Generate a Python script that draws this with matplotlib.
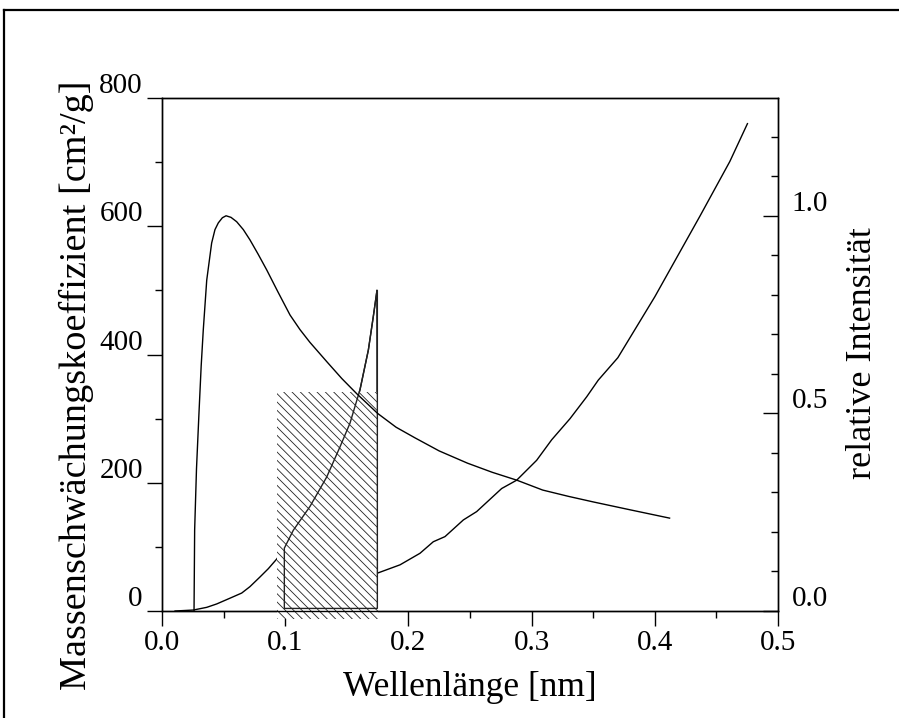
import matplotlib
matplotlib.use("Agg")
import matplotlib.pyplot as plt
from matplotlib.patches import Rectangle, Polygon
from matplotlib.lines import Line2D
from matplotlib.transforms import ScaledTranslation

plt.rcParams['font.family'] = ['Liberation Serif', 'DejaVu Serif']
plt.rcParams['hatch.linewidth'] = 0.6

# ---- data ----
# X-ray spectrum (relative intensity, right axis)
spec_wl = [0.026, 0.0265, 0.0280, 0.0300, 0.0318, 0.0335, 0.0363, 0.0403, 0.0430,
           0.0457, 0.0490, 0.0520, 0.0560, 0.0606, 0.0660, 0.0714, 0.0780, 0.0850,
           0.0940, 0.1039, 0.1120, 0.1200, 0.1340, 0.1460, 0.1580, 0.1750,
           0.1900, 0.2054, 0.2250, 0.2480, 0.2680, 0.2880, 0.3090, 0.3300, 0.3500,
           0.3800, 0.4120]
spec_int = [0.0, 0.205, 0.36, 0.50, 0.62, 0.711, 0.837, 0.931, 0.965,
            0.982, 0.995, 1.0, 0.996, 0.985, 0.965, 0.939, 0.903, 0.863,
            0.808, 0.749, 0.712, 0.680, 0.630, 0.588, 0.550, 0.500,
            0.465, 0.438, 0.405, 0.374, 0.351, 0.331, 0.306, 0.290, 0.276,
            0.256, 0.235]

# mass attenuation coefficient (left axis)
abs_wl = [0.0106, 0.0254, 0.0363, 0.0444, 0.0552, 0.0647, 0.0714, 0.0795, 0.0863,
          0.0931, 0.0993, 0.1066, 0.1201, 0.1337, 0.1445, 0.1526, 0.1607, 0.1675,
          0.1715, 0.1745, 0.1748, 0.1932, 0.2094, 0.2202, 0.2297, 0.2446, 0.2554,
          0.2757, 0.2879, 0.3041, 0.3163, 0.3312, 0.3447, 0.3541, 0.3700, 0.4000,
          0.4367, 0.4609, 0.4752]
abs_mu = [0, 1.5, 5.7, 11, 20, 28, 38, 53, 66,
          81, 98, 126, 163, 209, 256, 293, 345, 407,
          459, 500, 59, 72, 90, 108, 116, 142, 155,
          191, 204, 235, 267, 300, 334, 360, 395, 490,
          616, 701, 760]

# outlined region under the curve (wavelength range)
region_lo, region_hi = 0.0993, 0.1748
# hatched band
band_lo, band_hi = 0.093, 0.1755
band_top = 342
band_bottom = -12

x_ticks = [0.0, 0.1, 0.2, 0.3, 0.4, 0.5]
x_ticklabels = ['0.0', '0.1', '0.2', '0.3', '0.4', '0.5']
x_minor = [0.05, 0.15, 0.25, 0.35, 0.45]
yl_ticks = [0, 200, 400, 600, 800]
yl_minor = [100, 300, 500, 700]
yr_ticks = [0.0, 0.5, 1.0]
yr_ticklabels = ['0.0', '0.5', '1.0']
yr_minor = [0.1, 0.2, 0.3, 0.4, 0.6, 0.7, 0.8, 0.9, 1.1, 1.2]

W, H = 899, 718
fig = plt.figure(figsize=(W / 100, H / 100), dpi=100)
L, R, T, B = 162, 778, 98, 611
ax = fig.add_axes([L / W, 1 - B / H, (R - L) / W, (B - T) / H])
ax.set_xlim(0, 0.5)
ax.set_ylim(0, 800)
ax2 = ax.twinx()
ax2.set_ylim(0, 1.298)

for a in (ax, ax2):
    for s in a.spines.values():
        s.set_linewidth(1.0)

# absorption curve
ax.plot(abs_wl, abs_mu, color='black', lw=1.0, zorder=2)

# hatched band
rect = Rectangle((band_lo, band_bottom), band_hi - band_lo, band_top - band_bottom,
                 facecolor='white', edgecolor='#222222', lw=0, hatch='\\\\\\\\',
                 zorder=3, clip_on=False)
ax.add_patch(rect)

# outlined region under absorption curve
pts = [(region_lo, 4)]
pts += [(w, m) for w, m in zip(abs_wl[:20], abs_mu[:20]) if w >= region_lo]
pts += [(region_hi, abs_mu[19]), (region_hi, 4)]
poly = Polygon(pts, closed=True, fill=False, edgecolor='#222222', lw=1.0, zorder=4)
ax.add_patch(poly)

# spectrum
ax2.plot(spec_wl, spec_int, color='black', lw=1.0, zorder=5)

# ticks
ax.set_xticks(x_ticks)
ax.set_xticklabels(x_ticklabels)
ax.set_xticks(x_minor, minor=True)
ax.set_yticks(yl_ticks)
ax.set_yticklabels([str(v) for v in yl_ticks])
ax.set_yticks(yl_minor, minor=True)
ax.tick_params(axis='both', which='major', direction='out', length=10.8, width=1,
               labelsize=21, pad=4, top=False, right=False)
ax.tick_params(axis='both', which='minor', direction='out', length=5, width=1,
               top=False, right=False)
ax.tick_params(axis='y', pad=3)
ax.tick_params(axis='x', pad=3)

ax2.set_yticks(yr_ticks)
ax2.set_yticklabels(yr_ticklabels)
ax2.set_yticks(yr_minor, minor=True)
ax2.tick_params(axis='y', which='major', direction='in', length=10.8, width=1,
                labelsize=21, pad=10)
ax2.tick_params(axis='y', which='minor', direction='in', length=5, width=1)

off = ScaledTranslation(0, 0.15, fig.dpi_scale_trans)
for t in ax.yaxis.get_major_ticks():
    t.label1.set_transform(t.label1.get_transform() + off)
for t in ax2.yaxis.get_major_ticks():
    t.label2.set_transform(t.label2.get_transform() + off)

# axis labels
ax.set_xlabel('Wellenlänge [nm]', fontsize=25.5)
ax.xaxis.set_label_coords(0.5, (B - 688) / (B - T))
ax.xaxis.label.set_va('center')
ax.set_ylabel('Massenschwächungskoeffizient [cm²/g]', fontsize=27.5)
ax.yaxis.set_label_coords((76 - L) / (R - L), (B - 385) / (B - T))
ax.yaxis.label.set_va('center')
ax2.set_ylabel('relative Intensität', fontsize=26)
ax2.yaxis.set_label_coords((862 - L) / (R - L), (B - 353) / (B - T))
ax2.yaxis.label.set_va('center')

# page frame (top and left visible)
fig.add_artist(Line2D([4 / W, 1.0], [1 - 10 / H, 1 - 10 / H], transform=fig.transFigure,
                      color='black', lw=1.6))
fig.add_artist(Line2D([4 / W, 4 / W], [0, 1 - 10 / H], transform=fig.transFigure,
                      color='black', lw=1.6))

fig.savefig('out.png', dpi=100)
